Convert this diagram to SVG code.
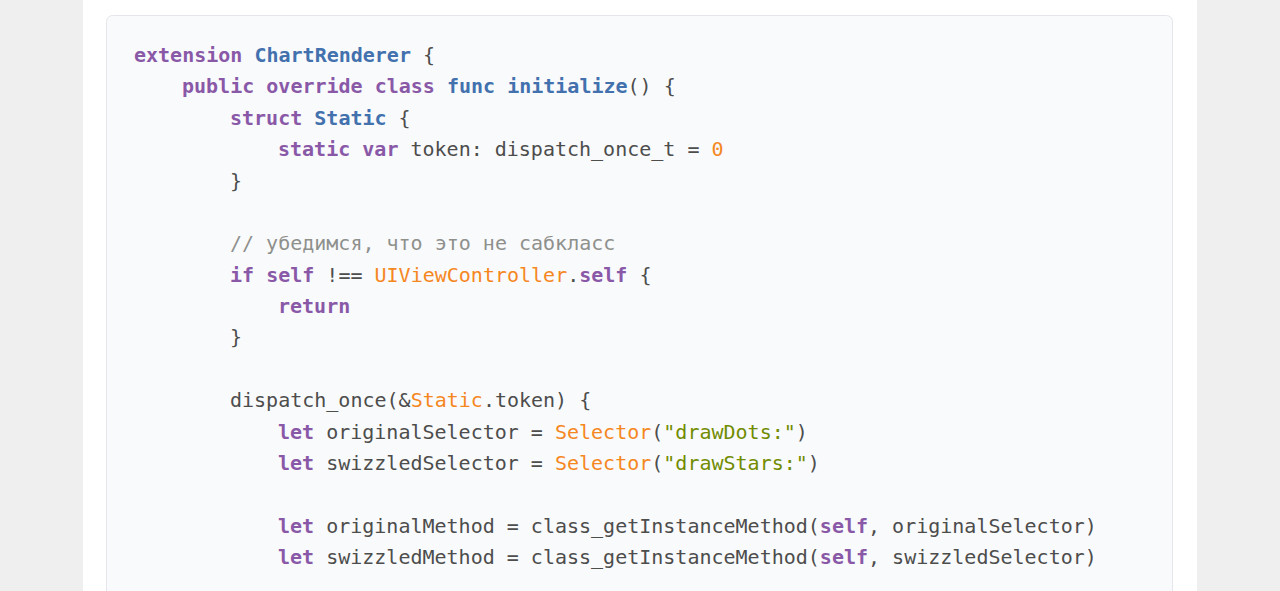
<svg xmlns="http://www.w3.org/2000/svg" width="1280" height="591" viewBox="0 0 1280 591">
<style>
.c{font-family:"DejaVu Sans Mono",monospace;font-size:20px;fill:#4d4d4c;white-space:pre}
.k{fill:#8959a8;font-weight:bold}
.b{fill:#4271ae;font-weight:bold}
.o{fill:#f5871f}
.s{fill:#718c00}
.m{fill:#8e908c}
</style>
<rect x="0" y="0" width="1280" height="591" fill="#efefef"/>
<rect x="83" y="0" width="1114" height="591" fill="#ffffff"/>
<g id="codeblock">
<rect x="106.5" y="15.5" width="1066" height="600" rx="6" fill="#f9fafc" stroke="#e4e6eb"/>
<text class="c" xml:space="preserve">
<tspan x="134" y="62"><tspan class="k">extension</tspan> <tspan class="b">ChartRenderer</tspan> {</tspan>
<tspan x="182" y="93.4"><tspan class="k">public</tspan> <tspan class="k">override</tspan> <tspan class="k">class</tspan> <tspan class="b">func</tspan> <tspan class="b">initialize</tspan>() {</tspan>
<tspan x="230" y="124.75"><tspan class="k">struct</tspan> <tspan class="b">Static</tspan> {</tspan>
<tspan x="278" y="156.1"><tspan class="k">static</tspan> <tspan class="k">var</tspan> token: dispatch_once_t = <tspan class="o">0</tspan></tspan>
<tspan x="230" y="187.5">}</tspan>
<tspan x="230" y="250.25" class="m">// убедимся, что это не сабкласс</tspan>
<tspan x="230" y="281.6"><tspan class="k">if</tspan> <tspan class="k">self</tspan> !== <tspan class="o">UIViewController</tspan>.<tspan class="k">self</tspan> {</tspan>
<tspan x="278" y="313" class="k">return</tspan>
<tspan x="230" y="344.4">}</tspan>
<tspan x="230" y="407.1">dispatch_once(&amp;<tspan class="o">Static</tspan>.token) {</tspan>
<tspan x="278" y="438.5"><tspan class="k">let</tspan> originalSelector = <tspan class="o">Selector</tspan>(<tspan class="s">"drawDots:"</tspan>)</tspan>
<tspan x="278" y="469.9"><tspan class="k">let</tspan> swizzledSelector = <tspan class="o">Selector</tspan>(<tspan class="s">"drawStars:"</tspan>)</tspan>
<tspan x="278" y="532.6"><tspan class="k">let</tspan> originalMethod = class_getInstanceMethod(<tspan class="k">self</tspan>, originalSelector)</tspan>
<tspan x="278" y="564"><tspan class="k">let</tspan> swizzledMethod = class_getInstanceMethod(<tspan class="k">self</tspan>, swizzledSelector)</tspan>
</text>
</g>
</svg>
